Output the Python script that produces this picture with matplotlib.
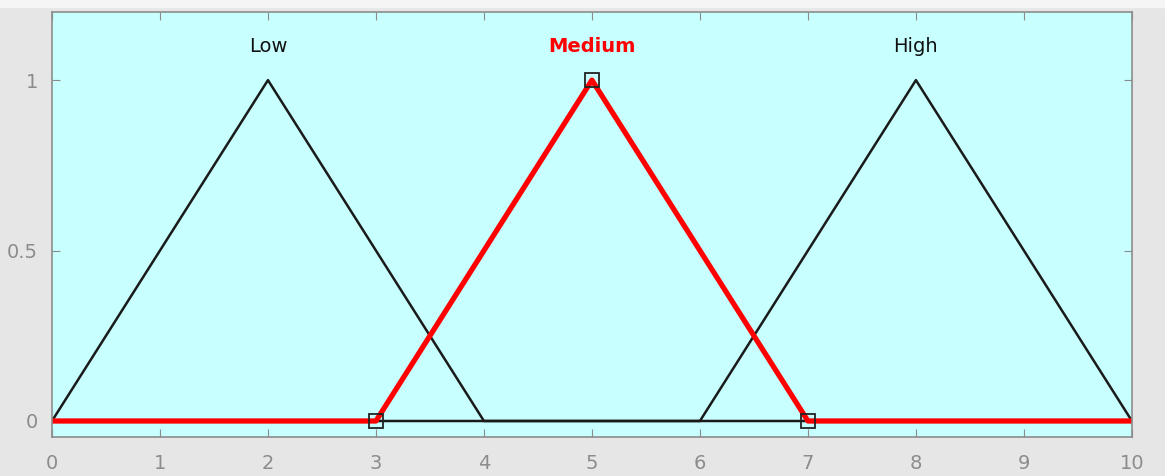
import numpy as np
import matplotlib.pyplot as plt

plt.rcParams['font.family'] = ['DejaVu Sans']

# membership functions (triangular), sampled at their break points
x_low = [0, 2, 4, 10]
y_low = [0, 1, 0, 0]
x_high = [0, 6, 8, 10]
y_high = [0, 0, 1, 0]
x_med = [0, 3, 5, 7, 10]
y_med = [0, 0, 1, 0, 0]
params_med = [3, 5, 7]   # vertices marked with squares
peak_med = [0, 1, 0]

names = ['Low', 'Medium', 'High']
centers = [2, 5, 8]

fig = plt.figure(figsize=(11.65, 4.76), dpi=100, facecolor='#e6e6e6')
ax = fig.add_axes([0.0446, 0.0819, 0.927, 0.893])
ax.set_facecolor('#c8ffff')

ax.plot(x_low, y_low, color='#1a1a1a', lw=1.8)
ax.plot(x_high, y_high, color='#1a1a1a', lw=1.8)
ax.plot(x_med, y_med, color='red', lw=3.8, solid_joinstyle='round')
ax.plot(params_med, peak_med, ls='none', marker='s', ms=10, mfc='none',
        mec='#222222', mew=1.3)

for name, c in zip(names, centers):
    if name == 'Medium':
        ax.text(c, 1.1, name, color='red', fontsize=14, fontweight='bold',
                ha='center', va='center')
    else:
        ax.text(c, 1.1, name, color='#111111', fontsize=14,
                ha='center', va='center')

ax.set_xlim(0, 10)
ax.set_ylim(-0.047, 1.2)
ax.set_xticks(range(0, 11))
ax.set_yticks([0, 0.5, 1])
ax.set_yticklabels(['0', '0.5', '1'])
ax.tick_params(direction='in', length=6, color='#8c8c8c', labelcolor='#8c8c8c',
               labelsize=14, top=True, right=True)
ax.tick_params(axis='x', pad=12)
ax.tick_params(axis='y', pad=10)
for s in ax.spines.values():
    s.set_color('#8c8c8c')
    s.set_linewidth(1.2)

# light strip across the top of the window
fig.patches.append(plt.Rectangle((0, 0.985), 1, 0.015, transform=fig.transFigure,
                                 color='#f5f5f5', zorder=0))

fig.savefig('out.png', dpi=100, facecolor=fig.get_facecolor())
